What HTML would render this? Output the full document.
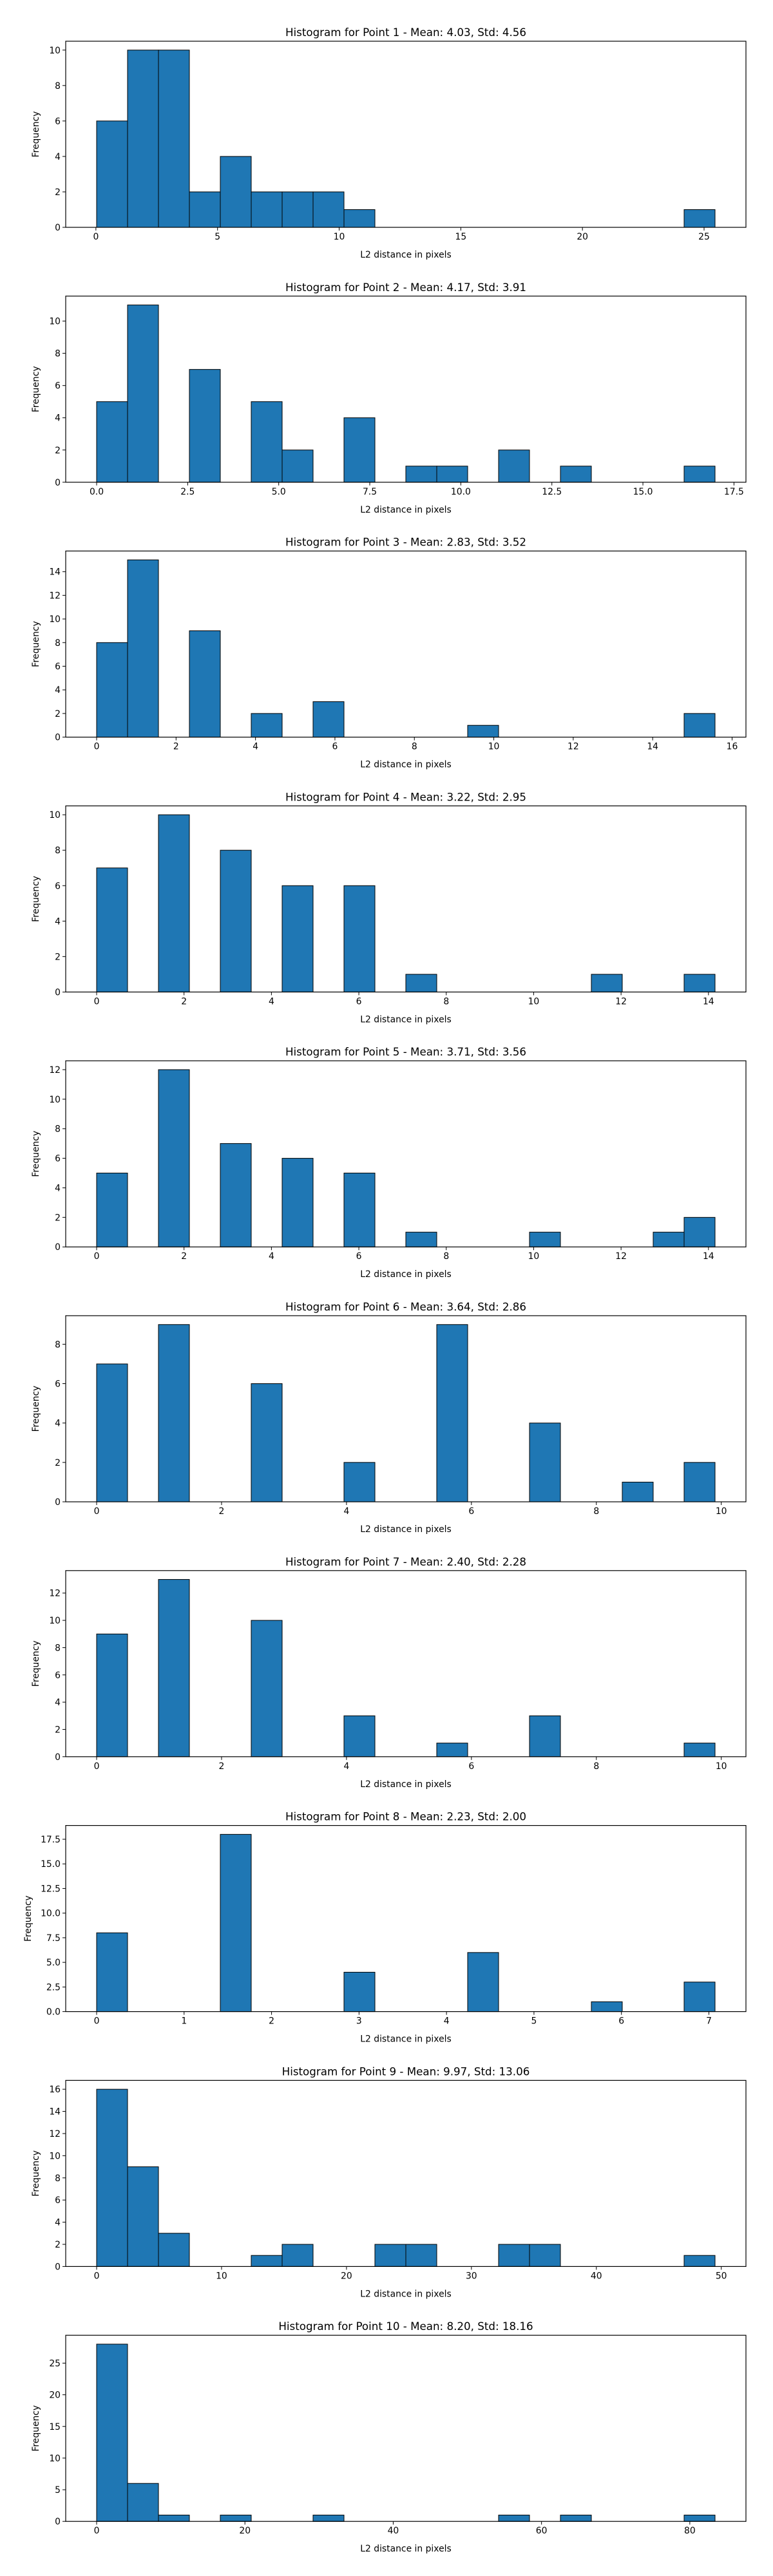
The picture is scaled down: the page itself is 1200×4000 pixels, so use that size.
<!DOCTYPE html>
<html><head><meta charset="utf-8"><style>
html,body{margin:0;padding:0;background:#fff;}
svg{display:block;font-family:"DejaVu Sans","Liberation Sans",sans-serif;}
</style></head><body>
<svg id="fig" width="1200" height="4000" xmlns="http://www.w3.org/2000/svg"></svg>
<script>
// Titles
const titles = [
 "Histogram for Point 1 - Mean: 4.03, Std: 4.56",
 "Histogram for Point 2 - Mean: 4.17, Std: 3.91",
 "Histogram for Point 3 - Mean: 2.83, Std: 3.52",
 "Histogram for Point 4 - Mean: 3.22, Std: 2.95",
 "Histogram for Point 5 - Mean: 3.71, Std: 3.56",
 "Histogram for Point 6 - Mean: 3.64, Std: 2.86",
 "Histogram for Point 7 - Mean: 2.40, Std: 2.28",
 "Histogram for Point 8 - Mean: 2.23, Std: 2.00",
 "Histogram for Point 9 - Mean: 9.97, Std: 13.06",
 "Histogram for Point 10 - Mean: 8.20, Std: 18.16"
];
// Bin range (min, max) per histogram, 20 bins each
const binMin = [0.03, 0, 0, 0, 0, 0, 0, 0, 0, 0];
const binMax = [25.45, 16.98, 15.57, 14.15, 14.15, 9.9, 9.9, 7.07, 49.5, 83.4];
// Counts per bin (20 bins)
const counts1  = [6,10,10,2,4,2,2,2,1,0,0,0,0,0,0,0,0,0,0,1];
const counts2  = [5,11,0,7,0,5,2,0,4,0,1,1,0,2,0,1,0,0,0,1];
const counts3  = [8,15,0,9,0,2,0,3,0,0,0,0,1,0,0,0,0,0,0,2];
const counts4  = [7,0,10,0,8,0,6,0,6,0,1,0,0,0,0,0,1,0,0,1];
const counts5  = [5,0,12,0,7,0,6,0,5,0,1,0,0,0,1,0,0,0,1,2];
const counts6  = [7,0,9,0,0,6,0,0,2,0,0,9,0,0,4,0,0,1,0,2];
const counts7  = [9,0,13,0,0,10,0,0,3,0,0,1,0,0,3,0,0,0,0,1];
const counts8  = [8,0,0,0,18,0,0,0,4,0,0,0,6,0,0,0,1,0,0,3];
const counts9  = [16,9,3,0,0,1,2,0,0,2,2,0,0,2,2,0,0,0,0,1];
const counts10 = [28,6,1,0,1,0,0,1,0,0,0,0,0,1,0,1,0,0,0,1];
const allCounts = [counts1,counts2,counts3,counts4,counts5,counts6,counts7,counts8,counts9,counts10];
// Tick values
const xTicks = [
 [0,5,10,15,20,25],
 [0,2.5,5,7.5,10,12.5,15,17.5],
 [0,2,4,6,8,10,12,14,16],
 [0,2,4,6,8,10,12,14],
 [0,2,4,6,8,10,12,14],
 [0,2,4,6,8,10],
 [0,2,4,6,8,10],
 [0,1,2,3,4,5,6,7],
 [0,10,20,30,40,50],
 [0,20,40,60,80]
];
const yTicks = [
 [0,2,4,6,8,10],
 [0,2,4,6,8,10],
 [0,2,4,6,8,10,12,14],
 [0,2,4,6,8,10],
 [0,2,4,6,8,10,12],
 [0,2,4,6,8],
 [0,2,4,6,8,10,12],
 [0,2.5,5,7.5,10,12.5,15,17.5],
 [0,2,4,6,8,10,12,14,16],
 [0,5,10,15,20,25]
];
const xDecimals = [0,1,0,0,0,0,0,0,0,0];
const yDecimals = [0,0,0,0,0,0,0,1,0,0];

const NS="http://www.w3.org/2000/svg";
const svg=document.getElementById('fig');
function mk(tag,attrs,parent){const e=document.createElementNS(NS,tag);for(const k in attrs)e.setAttribute(k,attrs[k]);parent.appendChild(e);return e;}

const L=102,R=1158,H=289,T0=64,STEP=395.8;
for(let i=0;i<10;i++){
  const top=T0+i*STEP, bot=top+H;
  const g=mk('g',{},svg);
  
  
  const c=allCounts[i], mn=binMin[i], mx=binMax[i], n=c.length, w=(mx-mn)/n;
  const pad=(mx-mn)*0.05, x0=mn-pad, x1=mx+pad;
  const ymax=Math.max(...c)*1.05;
  const sx=v=>L+(v-x0)/(x1-x0)*(R-L);
  const sy=v=>bot-v/ymax*H;
  for(let b=0;b<n;b++){
    const xa=sx(mn+b*w), xb=sx(mn+(b+1)*w);
    const r=mk('rect',{x:xa,y:sy(c[b]),width:xb-xa,height:bot-sy(c[b]),fill:'#1f77b4',stroke:'#000','stroke-width':1},g);
    
    
  }
  const frame=mk('rect',{x:L,y:top,width:R-L,height:H,fill:'none',stroke:'#000','stroke-width':1.2},g);
  
  
  xTicks[i].forEach(v=>{
    const x=sx(v);
    mk('line',{x1:x,x2:x,y1:bot,y2:bot+5,stroke:'#000','stroke-width':1},g);
    const t=mk('text',{x:x,y:bot+19,'text-anchor':'middle','font-size':13.9,fill:'#000'},g);
    t.textContent=v.toFixed(xDecimals[i]);
    
    
  });
  yTicks[i].forEach(v=>{
    const y=sy(v);
    mk('line',{x1:L-5,x2:L,y1:y,y2:y,stroke:'#000','stroke-width':1},g);
    const t=mk('text',{x:L-8,y:y+5,'text-anchor':'end','font-size':13.9,fill:'#000'},g);
    t.textContent=v.toFixed(yDecimals[i]);
    
    
  });
  const tt=mk('text',{x:(L+R)/2,y:top-8,'text-anchor':'middle','font-size':16.7,fill:'#000'},g);
  tt.textContent=titles[i];
  
  
  const xl=mk('text',{x:(L+R)/2,y:bot+47,'text-anchor':'middle','font-size':13.9,fill:'#000'},g);
  xl.textContent='L2 distance in pixels';
  
  
  const yx=(i===7)?48:60, yc=(top+bot)/2;
  const yl=mk('text',{x:yx,y:yc,'text-anchor':'middle','font-size':13.9,fill:'#000',transform:'rotate(-90 '+yx+' '+yc+')'},g);
  yl.textContent='Frequency';
  
  
}
</script>
</body></html>
